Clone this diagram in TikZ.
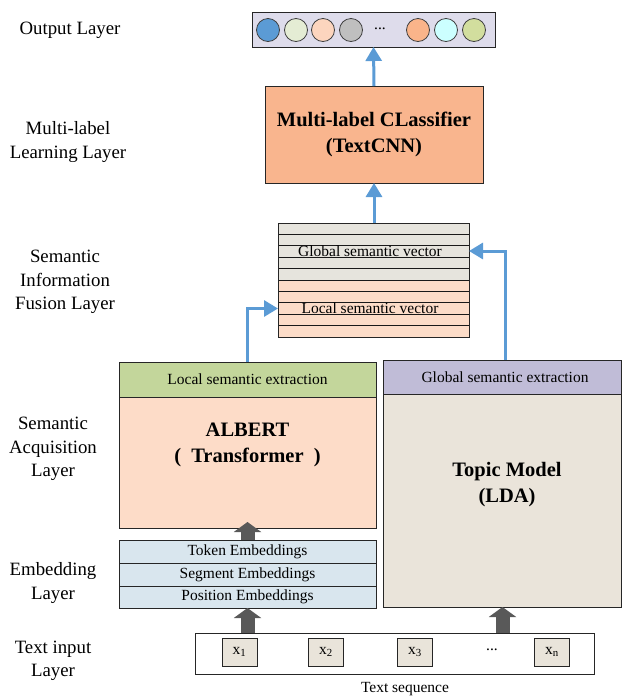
\documentclass[tikz,border=0pt]{standalone}
\usepackage{fontspec}
\setmainfont{Liberation Serif}
\usetikzlibrary{arrows.meta}
\definecolor{outbg}{HTML}{DEDCEB}
\definecolor{c1}{HTML}{5B9BD5}
\definecolor{c2}{HTML}{E4ECD4}
\definecolor{c3}{HTML}{FCD5BE}
\definecolor{c4}{HTML}{BFBFBF}
\definecolor{c5}{HTML}{FAB48A}
\definecolor{c6}{HTML}{CCFFFF}
\definecolor{c7}{HTML}{D2DE9E}
\definecolor{clsfill}{HTML}{F9B58E}
\definecolor{fgrey}{HTML}{E6E4DD}
\definecolor{fpeach}{HTML}{FCDCC8}
\definecolor{greenhdr}{HTML}{C3D69B}
\definecolor{peachbody}{HTML}{FDDCC8}
\definecolor{lavhdr}{HTML}{C0BCD7}
\definecolor{ldabody}{HTML}{EAE4DA}
\definecolor{embfill}{HTML}{D9E6EE}
\definecolor{xfill}{HTML}{E9E4DA}
\definecolor{arrowblue}{HTML}{5B9BD5}
\definecolor{arrowgrey}{HTML}{595959}
\tikzset{
  lbl/.style={font=\fontsize{18.8}{23.5}\selectfont, align=center, inner sep=0},
  small/.style={font=\fontsize{15.5}{18}\selectfont, inner sep=0},
  big/.style={font=\fontsize{20.5}{26}\selectfont\bfseries, align=center, inner sep=0},
  box/.style={draw=black!85, line width=0.8pt, inner sep=0, outer sep=0},
  dot/.style={circle, draw=black!75, line width=0.8pt, minimum size=23pt, inner sep=0},
  bluearrow/.style={draw=arrowblue, line width=3pt, -{Triangle[length=14pt,width=16pt]}},
  greyarrow/.style={draw=arrowgrey, line width=14pt, -{Triangle[length=10pt,width=27pt]}},
}
\begin{document}
\begin{tikzpicture}[x=1pt,y=-1pt]
\useasboundingbox (0,0) rectangle (623,697);

% left layer labels
\node[lbl] (l1) at (70,30) {Output Layer};
\node[lbl] (l2) at (68,142) {Multi-label\\Learning Layer};
\node[lbl] (l3) at (65,282) {Semantic\\Information\\Fusion Layer};
\node[lbl] (l4) at (53,449) {Semantic\\Acquisition\\Layer};
\node[lbl] (l5) at (53,583) {Embedding\\Layer};
\node[lbl] (l6) at (53,661) {Text input\\Layer};

% output layer
\node[box, fill=outbg, minimum width=243pt, minimum height=35pt] (out) at (373.5,29.5) {};
\node[dot, fill=c1] (o1) at (268,30) {};
\node[dot, fill=c2] (o2) at (296,30) {};
\node[dot, fill=c3] (o3) at (323,30) {};
\node[dot, fill=c4] (o4) at (351,30) {};
\node[small] (odots) at (380,29) {...};
\node[dot, fill=c5] (o5) at (418,30) {};
\node[dot, fill=c6] (o6) at (446,30) {};
\node[dot, fill=c7] (o7) at (474,30) {};

% classifier
\node[box, fill=clsfill, minimum width=218pt, minimum height=97pt] (cls) at (374,134.5) {};
\node[big] (clstext) at (374,134) {Multi-label CLassifier\\(TextCNN)};

% fusion layer
\foreach \i in {0,...,4}
  \fill[fgrey] (278,{223+11.4*\i}) rectangle (469,{223+11.4*(\i+1)});
\foreach \i in {5,...,9}
  \fill[fpeach] (278,{223+11.4*\i}) rectangle (469,{223+11.4*(\i+1)});
\foreach \i in {1,...,9}
  \draw[black!90, line width=0.9pt] (278,{223+11.4*\i}) -- (469,{223+11.4*\i});
\node[box, line width=0.9pt, minimum width=191pt, minimum height=114pt] (fus) at (373.5,280) {};
\node[small] (gvec) at (370,251) {Global semantic vector};
\node[small] (lvec) at (370,308.5) {Local semantic vector};

% ALBERT block
\node[box, fill=greenhdr, minimum width=257pt, minimum height=35pt] (lhdr) at (247.5,379.5) {};
\node[small] (lhdrtext) at (247.5,379.5) {Local semantic extraction};
\node[box, fill=peachbody, minimum width=257pt, minimum height=131pt] (albert) at (247.5,462.5) {};
\node[big] (alberttext) at (247.5,445) {ALBERT\\(\hspace{0.5em}Transformer\hspace{0.5em})};

% LDA block
\node[box, fill=lavhdr, minimum width=238pt, minimum height=34pt] (ghdr) at (502.5,377) {};
\node[small] (ghdrtext) at (505,377) {Global semantic extraction};
\node[box, fill=ldabody, minimum width=238pt, minimum height=213pt] (lda) at (502.5,500.5) {};
\node[big] (ldatext) at (507,485) {Topic Model\\(LDA)};

% embeddings
\node[box, fill=embfill, minimum width=257pt, minimum height=23pt] (emb1) at (247.5,551.5) {};
\node[small] (emb1t) at (247.5,551.5) {Token Embeddings};
\node[box, fill=embfill, minimum width=257pt, minimum height=23pt] (emb2) at (247.5,574.5) {};
\node[small] (emb2t) at (247.5,574.5) {Segment Embeddings};
\node[box, fill=embfill, minimum width=257pt, minimum height=22pt] (emb3) at (247.5,597) {};
\node[small] (emb3t) at (247.5,597) {Position Embeddings};

% text sequence
\node[box, fill=white, minimum width=399pt, minimum height=41pt] (seq) at (394.5,653.5) {};
\node[box, fill=xfill, minimum width=35pt, minimum height=28pt, font=\fontsize{15.5}{18}\selectfont] (x1) at (239.5,652) {x\textsubscript{1}};
\node[box, fill=xfill, minimum width=35pt, minimum height=28pt, font=\fontsize{15.5}{18}\selectfont] (x2) at (326,652) {x\textsubscript{2}};
\node[box, fill=xfill, minimum width=35pt, minimum height=28pt, font=\fontsize{15.5}{18}\selectfont] (x3) at (415,652) {x\textsubscript{3}};
\node[small] (xdots) at (492,650) {...};
\node[box, fill=xfill, minimum width=35pt, minimum height=28pt, font=\fontsize{15.5}{18}\selectfont] (xn) at (552,652) {x\textsubscript{n}};
\node[small] (seqlabel) at (405,689) {Text sequence};

% blue connectors
\draw[bluearrow] (cls.north) -- (out.south);
\draw[bluearrow] (fus.north -| cls.north) -- (cls.south);
\draw[bluearrow] (lhdr.north) |- (lvec -| fus.west);
\draw[bluearrow] ([xshift=3pt]ghdr.north) |- (gvec -| fus.east);

% grey block arrows
\draw[greyarrow] (emb1.north) -- ([yshift=6pt]albert.south);
\draw[greyarrow] (seq.north -| emb3.south) -- (emb3.south);
\draw[greyarrow] (seq.north -| lda.south) -- (lda.south);
\end{tikzpicture}
\end{document}
